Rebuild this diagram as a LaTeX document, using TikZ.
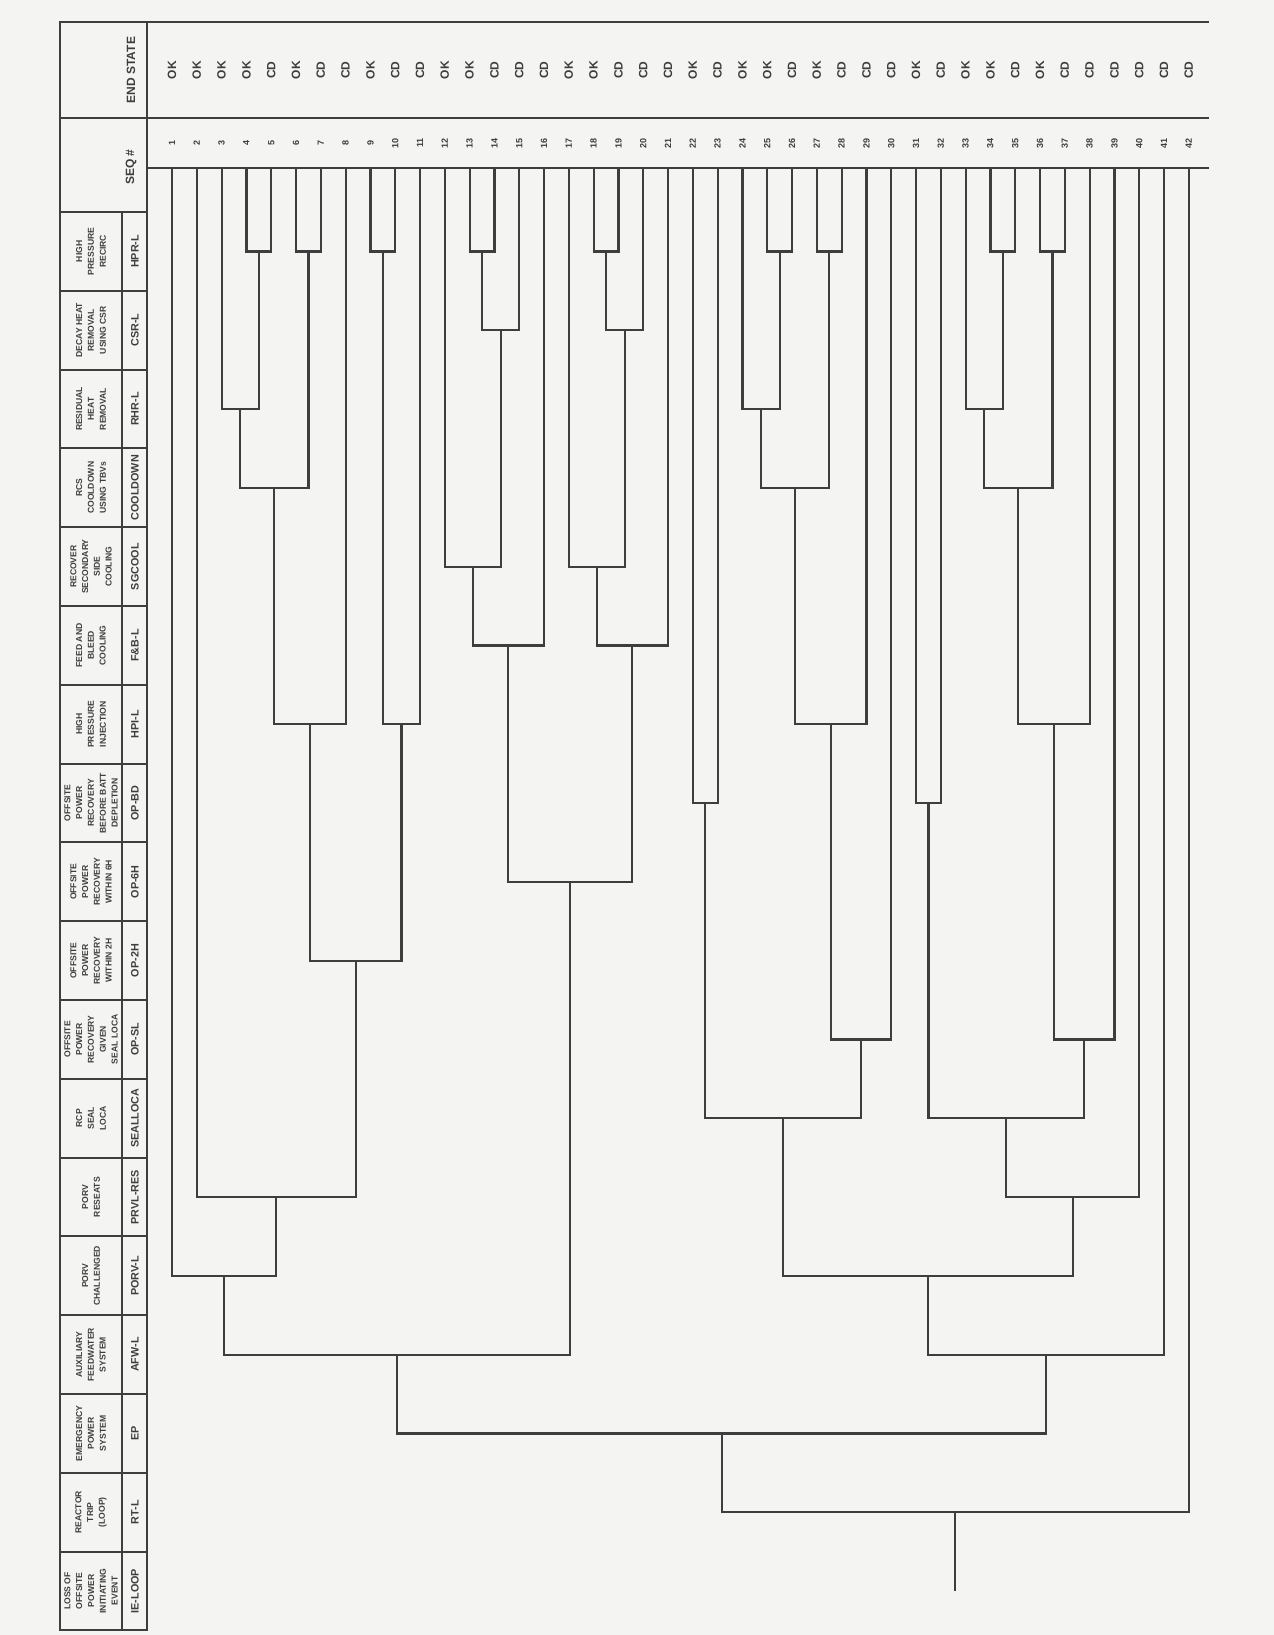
\documentclass[tikz,border=0pt]{standalone}
\usepackage{fontspec}
\setmainfont{Liberation Sans}
\usetikzlibrary{calc}
\definecolor{paper}{RGB}{244,244,242}
\definecolor{ink}{RGB}{62,62,62}
\tikzset{
  br/.style={line width=1.1pt, draw=ink},
  cell/.style={line width=1pt, draw=ink},
  hd/.style={rotate=90, align=center, inner sep=0pt, text=ink,
             font=\fontsize{4.3}{5.9}\selectfont\bfseries},
  hn/.style={rotate=90, inner sep=0pt, text=ink, font=\fontsize{5.4}{6}\selectfont\bfseries},
  es/.style={rotate=90, inner sep=0pt, text=ink, font=\fontsize{6}{7}\selectfont\bfseries},
  sq/.style={rotate=90, inner sep=0pt, text=ink, font=\fontsize{4.5}{5}\selectfont\bfseries}
}
% branch point: name, row y, success child, failure child
\newcommand{\etbranch}[4]{%
  \coordinate (#1) at ($(#3 |- 0,#2)!0.5!(#4 |- 0,#2)$);
  \draw[br] (#3) |- (#1) -| (#4);}

\begin{document}
\begin{tikzpicture}[x=0.5pt, y=-0.5pt]
  \useasboundingbox[fill=paper] (0,0) rectangle (1274,1635);
  % frame and heading column
  \draw[cell] (60,22) -- (1209,22);
  \draw[cell] (60,22) rectangle (147,1630);
  \draw[cell] (60,118) -- (1209,118);
  \draw[cell] (147,168) -- (1209,168);
  \draw[cell] (122,212) -- (122,1630);
  \foreach \k in {0,...,17} \draw[cell] (60,{212+78.8*\k}) -- (147,{212+78.8*\k});
  \node[es] (endhd) at (131,70) {END STATE};
  \node[es] (seqhd) at (131,167) {SEQ \#};
  \foreach \dsc/\abb [count=\k from 0] in {
      {HIGH\\PRESSURE\\RECIRC}/HPR-L,
      {DECAY HEAT\\REMOVAL\\USING CSR}/CSR-L,
      {RESIDUAL\\HEAT\\REMOVAL}/RHR-L,
      {RCS\\COOLDOWN\\USING TBVs}/COOLDOWN,
      {RECOVER\\SECONDARY\\SIDE\\COOLING}/SGCOOL,
      {FEED AND\\BLEED\\COOLING}/F\&B-L,
      {HIGH\\PRESSURE\\INJECTION}/HPI-L,
      {OFFSITE\\POWER\\RECOVERY\\BEFORE BATT\\DEPLETION}/OP-BD,
      {OFFSITE\\POWER\\RECOVERY\\WITHIN 6H}/OP-6H,
      {OFFSITE\\POWER\\RECOVERY\\WITHIN 2H}/OP-2H,
      {OFFSITE\\POWER\\RECOVERY\\GIVEN\\SEAL LOCA}/OP-SL,
      {RCP\\SEAL\\LOCA}/SEALLOCA,
      {PORV\\RESEATS}/PRVL-RES,
      {PORV\\CHALLENGED}/PORV-L,
      {AUXILIARY\\FEEDWATER\\SYSTEM}/AFW-L,
      {EMERGENCY\\POWER\\SYSTEM}/EP,
      {REACTOR\\TRIP\\(LOOP)}/RT-L,
      {LOSS OF\\OFFSITE\\POWER\\INITIATING\\EVENT}/IE-LOOP} {
    \node[hd] (hd\k) at (91,{251.4+78.8*\k}) {\dsc};
    \node[hn] (hn\k) at (135,{251.4+78.8*\k}) {\abb};
  }
  % sequences and end states
  \foreach \st [count=\i] in {OK,OK,OK,OK,CD,OK,CD,CD,OK,CD,CD,OK,OK,CD,CD,CD,OK,OK,CD,CD,CD,
      OK,CD,OK,OK,CD,OK,CD,CD,CD,OK,CD,OK,OK,CD,OK,CD,CD,CD,CD,CD,CD} {
    \coordinate (s\i) at ({172+24.8*(\i-1)},168);
    \node[sq] (num\i) at ({172+24.8*(\i-1)},143) {\i};
    \node[es] (end\i) at ({172+24.8*(\i-1)},70) {\st};
  }
  % HPR-L
  \etbranch{h45}{251.4}{s4}{s5}
  \etbranch{h67}{251.4}{s6}{s7}
  \etbranch{h910}{251.4}{s9}{s10}
  \etbranch{h1314}{251.4}{s13}{s14}
  \etbranch{h1819}{251.4}{s18}{s19}
  \etbranch{h2526}{251.4}{s25}{s26}
  \etbranch{h2728}{251.4}{s27}{s28}
  \etbranch{h3435}{251.4}{s34}{s35}
  \etbranch{h3637}{251.4}{s36}{s37}
  % CSR-L
  \etbranch{k1}{330.2}{h1314}{s15}
  \etbranch{k2}{330.2}{h1819}{s20}
  % RHR-L
  \etbranch{r1}{409.0}{s3}{h45}
  \etbranch{r2}{409.0}{s24}{h2526}
  \etbranch{r3}{409.0}{s33}{h3435}
  % COOLDOWN
  \etbranch{c1}{487.8}{r1}{h67}
  \etbranch{c2}{487.8}{r2}{h2728}
  \etbranch{c3}{487.8}{r3}{h3637}
  % SGCOOL
  \etbranch{g1}{566.6}{s12}{k1}
  \etbranch{g2}{566.6}{s17}{k2}
  % F&B-L
  \etbranch{f1}{645.4}{g1}{s16}
  \etbranch{f2}{645.4}{g2}{s21}
  % HPI-L
  \etbranch{p1}{724.2}{c1}{s8}
  \etbranch{p2}{724.2}{h910}{s11}
  \etbranch{p3}{724.2}{c2}{s29}
  \etbranch{p4}{724.2}{c3}{s38}
  % OP-BD
  \etbranch{b1}{803.0}{s22}{s23}
  \etbranch{b2}{803.0}{s31}{s32}
  % OP-6H, OP-2H
  \etbranch{o6}{881.8}{f1}{f2}
  \etbranch{o2}{960.6}{p1}{p2}
  % OP-SL
  \etbranch{l1}{1039.4}{p3}{s30}
  \etbranch{l2}{1039.4}{p4}{s39}
  % SEALLOCA
  \etbranch{sl1}{1118.2}{b1}{l1}
  \etbranch{sl2}{1118.2}{b2}{l2}
  % PRVL-RES
  \etbranch{v1}{1197.0}{s2}{o2}
  \etbranch{v2}{1197.0}{sl2}{s40}
  % PORV-L
  \etbranch{pv1}{1275.8}{s1}{v1}
  \etbranch{pv2}{1275.8}{sl1}{v2}
  % AFW-L
  \etbranch{a1}{1354.6}{pv1}{o6}
  \etbranch{a2}{1354.6}{pv2}{s41}
  % EP, RT-L
  \etbranch{ep}{1433.4}{a1}{a2}
  \etbranch{rt}{1512.2}{ep}{s42}
  % initiating event
  \coordinate (ie) at (rt |- 0,1591);
  \draw[br] (ie) -- (rt);
\end{tikzpicture}
\end{document}
